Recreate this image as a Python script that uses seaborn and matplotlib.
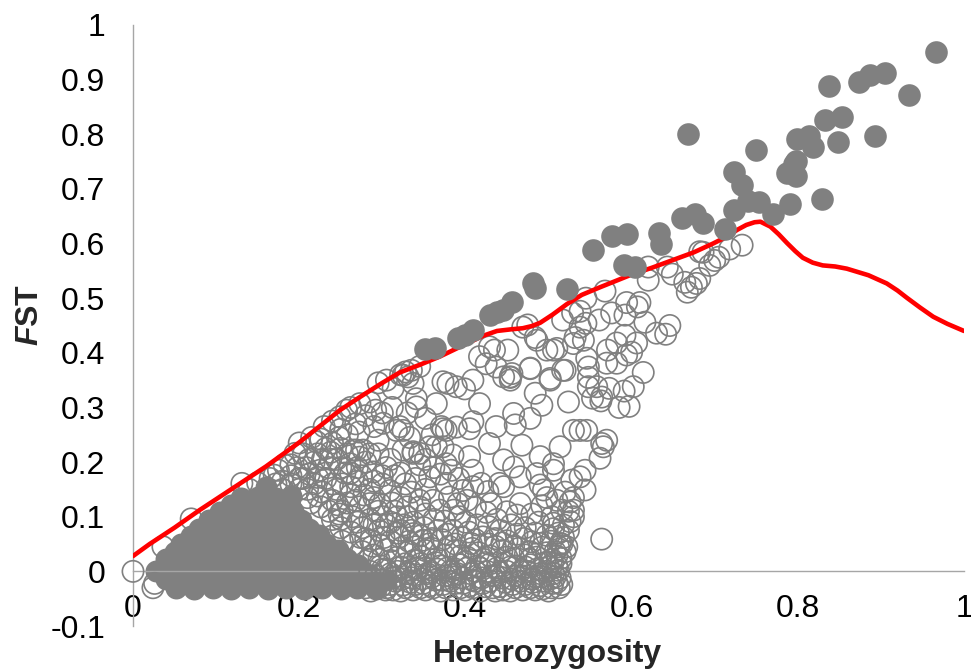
import matplotlib
matplotlib.use("Agg")
import matplotlib.pyplot as plt
import seaborn as sns
import pandas as pd

# Outlier loci (filled circles): heterozygosity, FST
outliers = [
 (.966,.951),(.838,.888),(.874,.896),(.887,.908),(.905,.912),(.934,.872),(.833,.826),(.853,.832),
 (.848,.786),(.893,.797),(.799,.791),(.813,.797),(.818,.777),(.750,.771),(.798,.751),(.796,.745),
 (.787,.729),(.798,.723),(.723,.731),(.733,.707),(.829,.681),(.791,.672),(.770,.654),(.753,.676),
 (.740,.678),(.723,.661),(.712,.626),(.676,.654),(.686,.637),(.668,.800),(.661,.647),(.633,.619),
 (.635,.599),(.554,.588),(.576,.614),(.594,.617),(.591,.560),(.604,.557),(.481,.527),(.484,.518),
 (.522,.516),(.456,.493),(.445,.478),(.438,.474),(.430,.469),(.351,.407),(.363,.408),(.391,.427),
 (.400,.432),(.409,.441),
]

# Neutral loci (open circles), upper right of the cloud
rings_top = [
 (.733,.597),(.718,.590),(.705,.575),(.686,.584),(.682,.585),(.700,.569),(.694,.560),(.643,.557),(.620,.557),(.620,.533),
 (.649,.544),(.664,.529),(.682,.536),(.667,.511),(.672,.520),(.678,.527),(.568,.513),(.545,.500),
 (.594,.492),(.610,.492),(.607,.484),(.592,.469),(.576,.473),(.561,.460),(.616,.456),(.646,.450),
 (.630,.436),(.641,.434),(.538,.476),(.529,.473),(.517,.460),(.545,.454),(.538,.447),(.532,.428),
 (.542,.423),(.484,.428),(.469,.447),(.475,.451),(.510,.408),(.498,.405),(.592,.432),(.582,.418),
 (.606,.418),(.600,.401),(.594,.396),(.571,.405),(.582,.381),(.570,.381),(.546,.390),(.517,.368),
 (.478,.372),(.614,.364),(.548,.355),(.502,.350),(.451,.405),(.454,.355),(.591,.330),(.602,.338),
 (.573,.335),(.563,.312),(.585,.300),(.597,.302),(.553,.317),
]

# Neutral loci (open circles), middle of the cloud
rings_mid = [
 (.429,.411),(.435,.405),(.417,.393),(.425,.380),(.437,.374),(.454,.350),(.446,.356),(.456,.362),
 (.478,.371),(.502,.353),(.520,.368),(.486,.423),(.506,.405),(.530,.417),(.548,.374),(.558,.338),
 (.564,.319),(.548,.338),(.524,.310),(.492,.304),(.484,.326),(.458,.289),(.478,.280),(.460,.268),
 (.437,.265),(.429,.234),(.468,.231),(.490,.210),(.506,.197),(.514,.228),(.530,.258),(.538,.258),
 (.546,.258),(.570,.240),(.566,.228),(.562,.207),(.564,.234),(.538,.173),(.544,.185),(.528,.167),
 (.506,.185),(.490,.158),(.494,.149),(.544,.149),(.446,.204),(.458,.191),(.466,.173),(.486,.179),
 (.446,.155),(.431,.124),(.409,.155),(.419,.161),(.427,.146),(.441,.161),(.462,.103),(.450,.109),
 (.466,.124),(.506,.088),(.526,.127),(.530,.112),(.526,.091),(.524,.075),(.516,.112),(.504,.100),
 (.514,.051),(.490,.051),(.480,.054),(.478,.036),(.458,.045),(.421,.063),(.407,.051),(.393,.100),
 (.385,.075),(.367,.075),(.349,.057),(.337,.069),(.321,.063),(.345,.118),(.345,.130),(.361,.130),
 (.369,.112),(.381,.136),(.391,.124),(.357,.173),(.377,.161),(.397,.148),(.337,.216),(.325,.222),
 (.289,.182),(.309,.148),(.297,.124),(.285,.124),(.273,.118),(.265,.222),(.277,.222),(.261,.197),
 (.273,.209),(.269,.222),(.321,.265),(.317,.258),(.325,.258),(.301,.271),(.341,.301),(.365,.307),
 (.377,.258),(.371,.265),(.373,.261),(.365,.228),(.373,.228),(.357,.228),(.385,.213),(.405,.210),
 (.377,.197),(.409,.185),(.345,.216),(.337,.219),(.409,.274),(.405,.261),(.389,.264),(.417,.307),
 (.389,.338),(.379,.344),(.373,.347),(.399,.334),(.409,.350),(.454,.356),(.341,.316),(.330,.290),
 (.352,.280),(.360,.250),(.333,.245),(.310,.205),(.295,.240),(.305,.190),(.322,.180),(.340,.170),
 (.352,.150),(.300,.160),(.285,.150),(.270,.165),(.255,.180),(.245,.150),(.238,.205),(.225,.185),
 (.345,.195),(.352,.205),(.362,.190),(.370,.178),(.383,.185),(.392,.170),(.402,.130),(.412,.118),
 (.425,.108),(.438,.095),(.352,.105),(.362,.095),(.375,.092),(.386,.112),(.400,.090),(.414,.085),
 (.428,.082),(.442,.075),(.455,.085),(.472,.080),(.488,.090),(.480,.105),(.492,.120),(.510,.130),
 (.520,.145),(.530,.135),(.498,.135),(.315,.175),(.328,.160),(.335,.145),(.322,.135),(.312,.125),
 (.330,.118),(.318,.100),(.305,.085),(.338,.090),(.350,.080),
]

# Neutral loci (open circles), along the upper edge
rings_edge = [
 (.335,.368),(.325,.359),(.331,.356),(.337,.344),(.305,.350),(.313,.335),(.285,.310),(.273,.307),
 (.257,.295),(.249,.283),(.240,.275),(.230,.265),(.221,.237),(.215,.245),(.226,.242),(.200,.235),
 (.195,.216),(.175,.185),(.182,.195),(.170,.176),(.131,.161),(.070,.096),(.036,.045),(.000,.000),
 (.024,-.030),(.026,-.022),(.295,.345),(.322,.360),(.328,.365),(.345,.375),(.262,.300),(.280,.285),
 (.268,.270),(.250,.260),(.292,.295),(.300,.290),(.312,.300),(.290,.265),(.272,.255),(.205,.215),
 (.212,.205),(.222,.215),(.232,.225),(.240,.235),(.248,.245),(.258,.250),(.190,.195),(.198,.190),
 (.208,.190),(.218,.200),(.228,.205),(.238,.218),(.250,.225),(.258,.215),(.245,.205),(.235,.190),
 (.222,.172),(.212,.178),(.200,.170),(.190,.175),(.180,.165),(.172,.160),(.250,.190),(.262,.180),
 (.270,.190),(.280,.200),(.285,.215),(.295,.215),
]

# Neutral loci (open circles), textured lower band
rings_low = [
 (.280,-.030),(.292,-.022),(.304,-.034),(.316,-.018),(.328,-.030),(.340,-.024),(.352,-.034),(.364,-.016),
 (.376,-.030),(.388,-.022),(.400,-.034),(.412,-.018),(.424,-.028),(.436,-.036),(.448,-.020),(.460,-.030),
 (.472,-.024),(.484,-.034),(.494,-.018),(.504,-.030),(.510,-.020),(.285,.000),(.298,.010),(.310,-.004),
 (.322,.008),(.334,.002),(.346,.014),(.358,-.002),(.370,.010),(.382,.000),(.394,.012),(.406,-.004),
 (.418,.006),(.430,.014),(.442,-.002),(.454,.008),(.466,.000),(.478,.012),(.490,-.004),(.500,.008),
 (.512,.002),(.515,.014),(.290,.030),(.305,.040),(.318,.026),(.332,.036),(.346,.028),(.360,.042),
 (.374,.030),(.388,.038),(.402,.026),(.416,.034),(.430,.028),(.444,.038),(.458,.024),(.472,.030),
 (.486,.026),(.498,.034),(.510,.028),(.520,.036),(.522,.045),(.280,.060),(.296,.075),(.310,.055),
 (.326,.085),(.340,.045),(.356,.050),(.372,.058),(.388,.050),(.404,.072),(.436,.060),(.450,.056),
 (.470,.060),(.498,.066),(.512,.070),(.518,.085),(.530,.100),(.524,.110),(.270,.090),(.285,.095),
 (.300,.100),(.315,.110),(.330,.100),(.248,.105),(.258,.125),(.262,.140),(.240,.130),(.228,.145),
 (.232,.170),(.218,.160),(.210,.135),(.205,.170),(.250,.095),(.564,.059),
 (.286,-.036),(.298,-.028),(.310,-.024),(.322,-.036),(.334,-.020),(.346,-.030),(.358,-.026),(.370,-.036),
 (.382,-.018),(.394,-.030),(.406,-.026),(.418,-.036),(.430,-.018),(.442,-.028),(.454,-.036),(.466,-.018),
 (.478,-.030),(.490,-.026),(.500,-.036),(.508,-.010),(.516,-.024),(.292,-.008),(.304,.004),(.316,-.010),
 (.328,.014),(.340,-.006),(.352,.006),(.364,.016),(.376,-.008),(.388,.004),(.400,.018),(.412,.000),
 (.424,.016),(.436,-.008),(.448,.016),(.460,-.008),(.472,.008),(.484,-.010),(.496,.016),(.506,-.004),
 (.296,.022),(.310,.020),(.324,.044),(.338,.020),(.352,.038),(.366,.024),(.380,.046),(.394,.028),
 (.408,.042),(.422,.022),(.436,.046),(.450,.026),(.464,.042),(.478,.022),(.492,.044),(.504,.022),
 (.516,.050),(.288,.046),(.302,.062),(.318,.070),(.332,.055),(.346,.065),(.360,.060),(.378,.068),
 (.396,.062),(.412,.058),(.428,.050),(.444,.052),(.462,.068),(.484,.070),(.506,.078),
]

# Neutral loci (open circles), close overlap at the base and beside the core
rings_base = [
 (.305,-.030),(.313,-.034),(.325,-.025),(.337,-.034),(.349,-.022),(.361,-.030),(.373,-.024),(.385,-.034),
 (.397,-.022),(.409,-.030),(.421,-.022),(.433,-.030),(.445,-.034),(.457,-.024),(.469,-.034),(.481,-.020),
 (.493,-.032),(.505,-.022),(.513,-.030),(.300,-.016),(.312,-.012),(.324,-.014),(.336,-.012),(.348,-.014),
 (.360,-.010),(.372,-.016),(.384,-.010),(.396,-.012),(.408,-.016),(.420,-.012),(.432,-.008),(.444,-.012),
 (.456,-.014),(.468,-.010),(.480,-.014),(.492,-.010),(.502,-.014),(.514,-.012),(.300,.004),(.318,.000),
 (.330,-.004),(.342,.006),(.354,-.004),(.366,.004),(.378,.006),(.390,-.004),(.402,.006),(.414,.010),
 (.426,.000),(.438,.006),(.450,.000),(.462,.010),(.474,.000),(.486,.004),(.498,.000),(.510,.010),
 (.505,.014),(.515,.024),(.508,.036),(.518,.062),(.512,.045),(.503,.055),
 (.240,.065),(.252,.055),(.264,.048),(.276,.036),(.284,.022),(.250,.080),(.262,.072),(.274,.062),
 (.286,.056),(.298,.048),(.240,.095),(.252,.110),(.264,.100),(.276,.080),(.290,.085),(.226,.118),
 (.236,.110),(.246,.122),(.214,.125),(.222,.138),(.200,.150),(.210,.150),(.240,.160),(.252,.160),
 (.268,.130),(.278,.140),(.290,.135),(.262,.155),(.275,.175),(.290,.165),(.300,.175),(.295,.110),
 (.310,.090),(.322,.075),(.335,.075),(.150,.162),(.165,.170),(.140,.150),(.180,.150),(.190,.160),
]

# Solid overlap of the dense core of the cloud
core_low = [
 (.052,-.030),(.074,-.032),(.096,-.030),(.118,-.032),(.140,-.030),(.162,-.032),(.184,-.030),(.206,-.032),
 (.228,-.030),(.250,-.032),(.270,-.030),(.292,-.032),(.028,.000),(.048,-.004),(.070,.000),(.092,-.004),(.114,.000),
 (.136,-.004),(.158,.000),(.180,-.004),(.202,.000),(.224,-.004),(.246,.000),(.268,-.004),(.285,-.006),
 (.040,-.014),(.063,-.016),(.085,-.014),(.107,-.016),(.129,-.014),(.151,-.016),(.173,-.014),(.195,-.016),
 (.217,-.014),(.239,-.016),(.261,-.014),(.283,-.016),(.305,-.016),
]
core_up = [
 (.040,.022),(.062,.026),(.084,.022),(.106,.026),(.128,.022),(.150,.026),(.172,.022),(.194,.026),
 (.216,.022),(.238,.026),(.258,.022),(.058,.050),(.080,.054),(.102,.050),(.124,.054),(.146,.050),
 (.168,.054),(.190,.050),(.212,.054),(.232,.050),(.080,.078),(.102,.082),(.124,.078),(.146,.082),
 (.168,.078),(.190,.082),(.212,.078),(.105,.108),(.126,.108),(.148,.110),(.170,.106),(.192,.110),
 (.130,.135),(.150,.136),(.172,.134),(.190,.138),(.160,.155),
 (.050,.012),(.073,.012),(.095,.012),(.117,.012),(.139,.012),(.161,.012),(.183,.012),(.205,.012),
 (.227,.012),(.249,.012),(.271,.012),(.051,.036),(.073,.040),(.095,.036),(.117,.040),(.139,.036),
 (.161,.040),(.183,.036),(.205,.040),(.225,.036),(.247,.040),(.070,.064),(.092,.066),(.114,.064),
 (.136,.066),(.158,.064),(.180,.066),(.202,.064),(.224,.066),(.092,.094),(.114,.094),(.136,.094),
 (.158,.094),(.180,.094),(.202,.094),(.118,.122),(.139,.122),(.160,.122),(.181,.122),
]

# Red trend curve
curve_x = [0,.02,.05,.08,.12,.16,.20,.225,.249,.273,.30,.321,.345,.369,.395,.421,.438,.455,.469,.48,.49,
           .505,.522,.54,.562,.58,.598,.625,.65,.675,.698,.715,.727,.738,.748,.755,.767,.777,.787,.797,
           .806,.818,.83,.845,.859,.885,.907,.92,.931,.947,.963,.98,1.0]
curve_y = [.028,.050,.080,.112,.152,.192,.236,.266,.295,.319,.345,.364,.378,.393,.412,.431,.440,.443,.445,
           .449,.455,.470,.489,.506,.520,.531,.542,.556,.570,.584,.600,.613,.625,.634,.639,.640,.631,.617,
           .601,.586,.574,.565,.560,.558,.554,.542,.527,.514,.501,.483,.466,.453,.440]

y_ticks = [-.1,0,.1,.2,.3,.4,.5,.6,.7,.8,.9,1]
y_labels = ["-0.1","0","0.1","0.2","0.3","0.4","0.5","0.6","0.7","0.8","0.9","1"]
x_ticks = [0,.2,.4,.6,.8,1]
x_labels = ["0","0.2","0.4","0.6","0.8","1"]

sns.set_theme(style="white")
plt.rcParams["font.family"] = ["Liberation Sans", "DejaVu Sans"]
plt.rcParams["mathtext.fontset"] = "custom"
plt.rcParams["mathtext.bfit"] = "Liberation Sans:italic:bold"
plt.rcParams["mathtext.bf"] = "Liberation Sans:bold"

GREY = "#808080"
fig = plt.figure(figsize=(9.71, 6.71), dpi=100)
ax = fig.add_axes([133/971, 1-626/671, 831/971, 601/671])

rings = pd.DataFrame(rings_top + rings_mid + rings_edge + rings_low + rings_base, columns=["h", "f"])
core = pd.DataFrame(core_low + core_up, columns=["h", "f"])
solid = pd.DataFrame(outliers, columns=["h", "f"])
trend = pd.DataFrame({"h": curve_x, "f": curve_y})

sns.scatterplot(data=core, x="h", y="f", ax=ax, s=250, color=GREY, linewidth=0, zorder=2, clip_on=False)
sns.scatterplot(data=rings, x="h", y="f", ax=ax, s=235, facecolors="none", edgecolor=GREY,
                linewidth=1.2, zorder=3, clip_on=False)
line = sns.lineplot(data=trend, x="h", y="f", ax=ax, color="#FF0000", linewidth=3.3, sort=False,
                    estimator=None, zorder=4).lines[-1]
line.set_solid_joinstyle("round")
sns.scatterplot(data=solid, x="h", y="f", ax=ax, s=265, color=GREY, linewidth=0, zorder=5, clip_on=False)

ax.set_xlim(0, 1)
ax.set_ylim(-.1, 1.0)
ax.set_xticks(x_ticks, x_labels)
ax.set_yticks(y_ticks, y_labels)
ax.grid(False)
ax.patch.set_alpha(0)
for s in ("top", "right"):
    ax.spines[s].set_visible(False)
ax.spines["bottom"].set_position(("data", 0))
for s in ("left", "bottom"):
    ax.spines[s].set_color("#A6A6A6")
    ax.spines[s].set_linewidth(1.0)
ax.tick_params(axis="x", length=0, pad=16, labelsize=23, labelcolor="black")
ax.tick_params(axis="y", length=0, pad=20, labelsize=23, labelcolor="black")
for t in ax.get_xticklabels():
    t.set_clip_on(False)

ax.set_xlabel("")
ax.set_ylabel("")
fig.text(547/971, 1-654/671, "Heterozygosity", fontsize=23, fontweight="bold", ha="center", va="center")
fig.text(30/971, 1-315/671, r"$\mathbfit{F}$ST", fontsize=23, fontweight="bold", rotation=90, ha="center", va="center")

fig.savefig("out.png", dpi=100)
